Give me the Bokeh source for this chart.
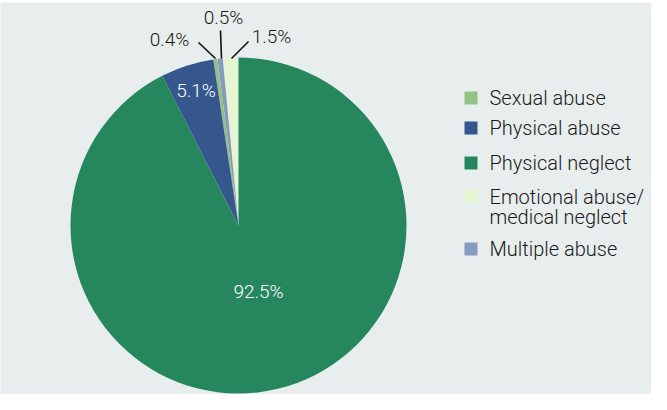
import numpy as np
from bokeh.plotting import figure
from bokeh.models import Range1d, ColumnDataSource
from bokeh.core.properties import value
from bokeh.embed import file_html
from bokeh.resources import INLINE

# ---------------- data ----------------
categories = ["Sexual abuse", "Physical abuse", "Physical neglect",
              "Emotional abuse/medical neglect", "Multiple abuse"]
percent = [0.4, 5.1, 92.5, 1.5, 0.5]
colors = ["#93c384", "#35578e", "#26875f", "#e6f5d1", "#8799be"]
# order of slices counter-clockwise from 12 o'clock
pie_order = ["Emotional abuse/medical neglect", "Multiple abuse", "Sexual abuse",
             "Physical abuse", "Physical neglect"]

# ---------------- layout (screen px) ----------------
W, H, TOP = 651, 394, 2
FH = H - TOP
def dx(x):  # screen x -> data x
    return x - 8
def dy(y):  # screen y -> data y
    return (8 + H) - y

CX, CY, R = dx(246), dy(233), 168
FONT = "Roboto Light, Roboto"

p = figure(width=W, height=H, x_range=Range1d(0, W), y_range=Range1d(0, FH),
           output_backend="svg", toolbar_location=None,
           x_axis_location=None, y_axis_location=None,
           min_border_left=0, min_border_right=0, min_border_bottom=0, min_border_top=TOP,
           border_fill_color="white", background_fill_color="#e8eeed",
           outline_line_color=None)
p.xgrid.visible = False
p.ygrid.visible = False

# ---------------- pie ----------------
idx = [categories.index(c) for c in pie_order]
vals = np.array([percent[i] for i in idx])
frac = vals / vals.sum()
ends = np.pi / 2 + 2 * np.pi * np.cumsum(frac)
starts = np.concatenate([[np.pi / 2], ends[:-1]])
src = ColumnDataSource(dict(start=starts, end=ends, color=[colors[i] for i in idx]))
p.wedge(x=CX, y=CY, radius=R, start_angle="start", end_angle="end",
        fill_color="color", line_color=None, source=src)

# ---------------- slice labels ----------------
label_pos = {  # screen centres
    "Sexual abuse": (177, 46.5),
    "Multiple abuse": (231, 25),
    "Emotional abuse/medical neglect": (279, 44),
    "Physical abuse": (203.5, 97.5),
    "Physical neglect": (266, 299),
}
inside = {"Physical abuse", "Physical neglect"}
lx, ly, lt, lc = [], [], [], []
for c, v in zip(categories, percent):
    x, y = label_pos[c]
    lx.append(dx(x)); ly.append(dy(y)); lt.append(f"{v}%")
    lc.append("white" if c in inside else "#1a1a1a")
p.text(x=lx, y=ly, text=lt, text_color=lc, text_font=value(FONT),
       text_font_size="19px", text_align="center", text_baseline="middle")

# leader lines (screen coords)
leaders = {
    "Sexual abuse": ((206, 50), (223, 66)),
    "Multiple abuse": ((228, 38), (229, 66)),
    "Emotional abuse/medical neglect": ((256, 49), (239, 66)),
}
p.segment(x0=[dx(a[0]) for a, b in leaders.values()], y0=[dy(a[1]) for a, b in leaders.values()],
          x1=[dx(b[0]) for a, b in leaders.values()], y1=[dy(b[1]) for a, b in leaders.values()],
          line_color="#111111", line_width=1.6)

# ---------------- legend ----------------
leg_centres = [105.5, 135.5, 170.5, 204, 256.5]
SQ = 13
p.rect(x=[dx(478.5)] * len(categories), y=[dy(c) for c in leg_centres],
       width=SQ, height=SQ, fill_color=colors, line_color=None)
tx, ty, tt = [], [], []
for c, yc in zip(categories, leg_centres):
    parts = c.split("/")
    lines = [parts[0] + "/", parts[1]] if len(parts) > 1 else [c]
    for k, line in enumerate(lines):
        tx.append(dx(497)); ty.append(dy(yc + 20 * k)); tt.append(line)
p.text(x=tx, y=ty, text=tt, text_color="#1a1a1a", text_font=value(FONT),
       text_font_size="20px", text_align="left", text_baseline="middle")

open("out.html", "w").write(file_html(p, INLINE))
